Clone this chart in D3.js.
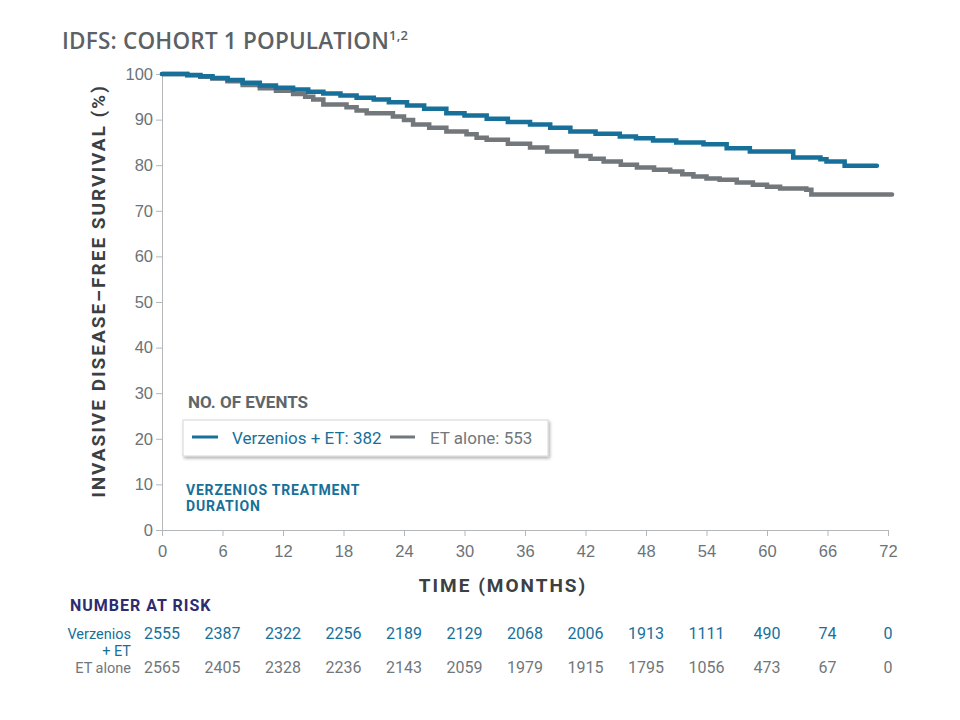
<!DOCTYPE html>
<html>
<head>
<meta charset="utf-8">
<script src="https://cdn.jsdelivr.net/npm/d3@7"></script>
<style>
  body { margin: 0; background: #fff; }
  svg { font-family: Roboto, "Open Sans", sans-serif; }
  .tick text { fill: #6b7378; font-size: 16.5px; }
  .tick line, .domain { stroke: #b3b7ba; }
</style>
</head>
<body>
<div id="container"></div>
<script>
// Kaplan-Meier steps (months, % free of IDFS event)
var verzTime = [0, 1.5, 2.5, 3.8, 5, 6.5, 8, 9.7, 11.3, 13, 14.5, 16, 17.7, 19.3, 21, 22.5, 24.3, 26,
                28.2, 30, 32.2, 34.3, 36.5, 38.5, 40.5, 43, 45.4, 47, 48.7, 51, 53.7, 56, 58.3, 62.6,
                65.3, 65.9, 67.7, 70.9];
var verzSurv = [100, 100, 99.8, 99.5, 99.1, 98.7, 98.1, 97.5, 97.0, 96.6, 96.1, 95.7, 95.3, 94.8, 94.4, 93.8, 93.1, 92.4,
                91.4, 90.9, 90.2, 89.5, 88.9, 88.2, 87.4, 86.9, 86.3, 85.9, 85.4, 85.0, 84.6, 83.7, 83.0, 81.7,
                81.3, 80.8, 79.9, 79.9];

var etTime = [0, 1.5, 2.5, 3.8, 5, 6.5, 8, 9.7, 11.3, 13, 14.2, 15, 16, 18.3, 19.3, 20.3, 22.9, 24, 24.9,
              26.5, 28.2, 30.2, 31.2, 32.2, 34.3, 36.5, 38.2, 41.1, 42.5, 43.8, 45.5, 47.1, 48.8, 50.4,
              51.6, 52.7, 54, 55.3, 57, 58.6, 60, 61.3, 63.9, 64.4, 72.4];
var etSurv = [100, 100, 99.7, 99.4, 99.0, 98.4, 97.6, 96.9, 96.3, 95.6, 95.0, 94.4, 93.3, 92.7, 92.0, 91.4, 90.7, 89.9, 88.9,
              88.2, 87.4, 86.8, 86.0, 85.6, 84.7, 83.9, 83.0, 82.0, 81.4, 80.8, 80.1, 79.5, 79.0, 78.6,
              78.0, 77.5, 77.1, 76.8, 76.2, 75.7, 75.3, 74.9, 74.6, 73.6, 73.6];

var xTicks = [0, 6, 12, 18, 24, 30, 36, 42, 48, 54, 60, 66, 72];
var yTicks = [0, 10, 20, 30, 40, 50, 60, 70, 80, 90, 100];

var riskVerz = [2555, 2387, 2322, 2256, 2189, 2129, 2068, 2006, 1913, 1111, 490, 74, 0];
var riskEt = [2565, 2405, 2328, 2236, 2143, 2059, 1979, 1915, 1795, 1056, 473, 67, 0];

var eventsVerz = 382;
var eventsEt = 553;

var blue = "#17709a";
var grey = "#71777b";

var width = 960, height = 720;
var margin = {left: 162, top: 74, right: 72, bottom: 190};

var svg = d3.select("#container").append("svg")
    .attr("width", width)
    .attr("height", height);

var xScale = d3.scaleLinear().domain([0, 72]).range([margin.left, width - margin.right]);
var yScale = d3.scaleLinear().domain([0, 100]).range([height - margin.bottom, margin.top]);

var xAxis = d3.axisBottom(xScale).tickValues(xTicks).tickSize(6).tickPadding(5);
var yAxis = d3.axisLeft(yScale).tickValues(yTicks).tickSize(6).tickPadding(3);

svg.append("g")
   .attr("transform", "translate(0," + (height - margin.bottom) + ")")
   .call(xAxis)
   .call(g => g.selectAll(".tick text").attr("dy", "0.95em"));

svg.append("g")
   .attr("transform", "translate(" + margin.left + ",0)")
   .call(yAxis);

// curves
var line = d3.line()
    .x(d => xScale(d[0]))
    .y(d => yScale(d[1]))
    .curve(d3.curveStepAfter);

svg.append("path")
   .datum(etTime.map((t, i) => [t, etSurv[i]]))
   .attr("fill", "none")
   .attr("stroke", grey)
   .attr("stroke-width", 4.5)
   .attr("stroke-linecap", "round")
   .attr("d", line);

svg.append("path")
   .datum(verzTime.map((t, i) => [t, verzSurv[i]]))
   .attr("fill", "none")
   .attr("stroke", blue)
   .attr("stroke-width", 4.5)
   .attr("stroke-linecap", "round")
   .attr("d", line);

// title
var title = svg.append("text")
   .attr("x", 62)
   .attr("y", 49)
   .attr("fill", "#5b6165")
   .style("font-family", "'Open Sans', sans-serif")
   .style("font-size", "22.5px")
   .style("font-weight", 600)
   .style("letter-spacing", "0.2px")
   .text("IDFS: COHORT 1 POPULATION");
title.append("tspan")
   .attr("dy", -9)
   .style("font-size", "13px")
   .text("1,2");

// axis titles
svg.append("text")
   .attr("transform", "translate(105,291) rotate(-90)")
   .attr("text-anchor", "middle")
   .attr("fill", "#3b4043")
   .style("font-size", "19px")
   .style("font-weight", 700)
   .style("letter-spacing", "2px")
   .text("INVASIVE DISEASE\u2013FREE SURVIVAL (%)");

svg.append("text")
   .attr("x", 503)
   .attr("y", 592)
   .attr("text-anchor", "middle")
   .attr("fill", "#3b4043")
   .style("font-size", "19px")
   .style("font-weight", 700)
   .style("letter-spacing", "2px")
   .text("TIME (MONTHS)");

// events legend
svg.append("text")
   .attr("x", 188)
   .attr("y", 408)
   .attr("fill", "#5e666a")
   .style("font-size", "17px")
   .style("font-weight", 700)
   .text("NO. OF EVENTS");

var defs = svg.append("defs");
var f = defs.append("filter").attr("id", "shadow")
   .attr("x", "-5%").attr("y", "-30%").attr("width", "110%").attr("height", "160%");
f.append("feDropShadow")
   .attr("dx", 1.5).attr("dy", 2)
   .attr("stdDeviation", 1.5)
   .attr("flood-color", "#000")
   .attr("flood-opacity", 0.3);

var lg = svg.append("g").attr("transform", "translate(183,420)");
lg.append("rect")
   .attr("width", 365)
   .attr("height", 36)
   .attr("fill", "#fff")
   .attr("stroke", "#d3d6d8")
   .attr("filter", "url(#shadow)");
lg.append("line")
   .attr("x1", 9).attr("x2", 35).attr("y1", 17).attr("y2", 17)
   .attr("stroke", blue).attr("stroke-width", 3);
lg.append("text")
   .attr("x", 49).attr("y", 24)
   .attr("fill", blue)
   .style("font-size", "17px")
   .text("Verzenios + ET: " + eventsVerz);
lg.append("line")
   .attr("x1", 207).attr("x2", 232).attr("y1", 17).attr("y2", 17)
   .attr("stroke", grey).attr("stroke-width", 3);
lg.append("text")
   .attr("x", 247).attr("y", 24)
   .attr("fill", grey)
   .style("font-size", "17px")
   .text("ET alone: " + eventsEt);

// treatment duration note
var note = svg.append("text")
   .attr("x", 186)
   .attr("y", 495)
   .attr("fill", blue)
   .style("font-size", "14px")
   .style("font-weight", 700)
   .style("letter-spacing", "0.8px");
note.append("tspan").attr("x", 186).text("VERZENIOS TREATMENT");
note.append("tspan").attr("x", 186).attr("dy", 16).text("DURATION");

// number at risk
svg.append("text")
   .attr("x", 70)
   .attr("y", 611)
   .attr("fill", "#2e2b6f")
   .style("font-size", "16px")
   .style("font-weight", 700)
   .style("letter-spacing", "1px")
   .text("NUMBER AT RISK");

var rl = svg.append("text")
   .attr("text-anchor", "end")
   .attr("fill", blue)
   .style("font-size", "14.5px");
rl.append("tspan").attr("x", 131).attr("y", 639).text("Verzenios");
rl.append("tspan").attr("x", 131).attr("y", 656).text("+ ET");

svg.append("text")
   .attr("x", 131)
   .attr("y", 673)
   .attr("text-anchor", "end")
   .attr("fill", grey)
   .style("font-size", "14.5px")
   .text("ET alone");

svg.selectAll(".riskVerz")
   .data(riskVerz)
   .enter()
   .append("text")
   .attr("class", "riskVerz")
   .attr("x", (d, i) => xScale(xTicks[i]))
   .attr("y", 639)
   .attr("text-anchor", "middle")
   .attr("fill", blue)
   .style("font-size", "16px")
   .text(d => d);

svg.selectAll(".riskEt")
   .data(riskEt)
   .enter()
   .append("text")
   .attr("class", "riskEt")
   .attr("x", (d, i) => xScale(xTicks[i]))
   .attr("y", 673)
   .attr("text-anchor", "middle")
   .attr("fill", grey)
   .style("font-size", "16px")
   .text(d => d);
</script>
</body>
</html>
